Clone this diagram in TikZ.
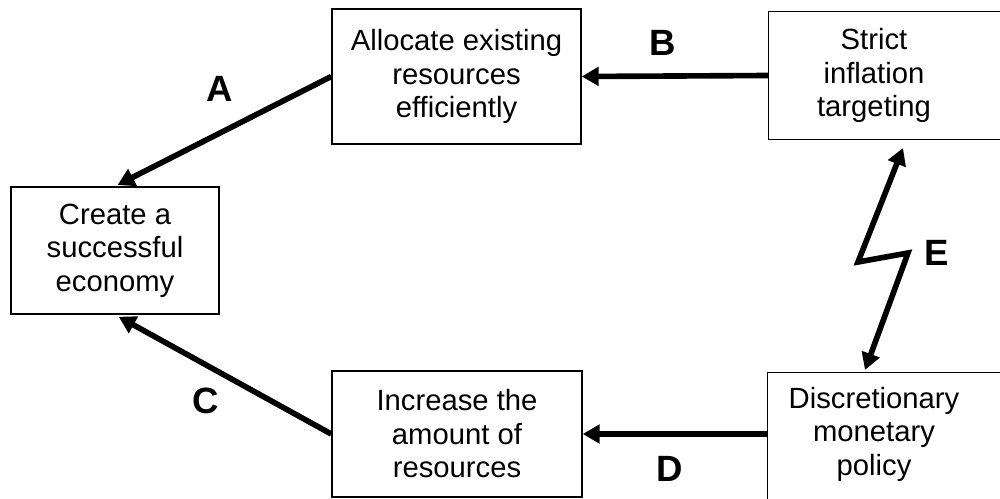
\documentclass[tikz,border=0pt]{standalone}
\usepackage{fontspec}
\setmainfont{Liberation Sans}
\usetikzlibrary{positioning, arrows.meta}

\begin{document}
\begin{tikzpicture}[x=0.025cm, y=-0.025cm, line width=1pt,
	box/.style={draw, align=center, inner sep=0pt, font=\fontsize{20.8}{23.8}\selectfont},
	txt/.style={align=center, inner sep=0pt, font=\fontsize{20.8}{23.8}\selectfont},
	arr/.style={-{Triangle[length=12pt,width=13pt]}, line width=4pt},
	dblarr/.style={{Triangle[length=12pt,width=13pt]}-{Triangle[length=12pt,width=13pt]}, line width=4pt, line join=miter},
	lbl/.style={inner sep=0pt, font=\fontsize{26}{30}\bfseries\selectfont}]
	\useasboundingbox (0,0) rectangle (1000,499);
	\clip (0,0) rectangle (1000,499);

	\node[box, minimum width=5.2cm, minimum height=3.175cm] (create) at (115,250.5) {Create a\\successful\\economy};
	\node[box, minimum width=6.225cm, minimum height=3.375cm] (alloc) at (456.5,76.5) {Allocate existing\\resources\\efficiently};
	\node[box, minimum width=6.25cm, minimum height=3.15cm] (incr) at (457,434) {Increase the\\amount of\\resources};
	\node[txt, minimum width=5.25cm, minimum height=3.175cm] (strict) at (874,75.5) {Strict\\inflation\\targeting};
	\node[txt, minimum width=5.3cm, minimum height=3.05cm] (disc) at (874,434) {Discretionary\\monetary\\policy};

	\draw ([xshift=8cm]strict.north west) -- (strict.north west) -- (strict.south west) -- ([xshift=8cm]strict.south west);
	\draw ([xshift=8cm]disc.north west) -- (disc.north west) -- ([yshift=-4cm]disc.north west);

	\coordinate (e1) at (903,148);
	\coordinate (e2) at (865,370);

	\draw[arr, shorten >=2pt] (alloc.west) -- (create.north);
	\draw[arr] (strict.west) -- (alloc.east);
	\draw[arr, shorten >=3pt] (incr.west) -- (create.south);
	\draw[arr] (disc.west) -- (disc.west -| incr.east);
	\draw[dblarr] (e1) -- (858,262) -- (908,253) -- (e2);

	\node[lbl] (la) at (220,89) {A};
	\node[lbl] (lb) at (663,43) {B};
	\node[lbl] (lc) at (206,401) {C};
	\node[lbl] (ld) at (670,469) {D};
	\node[lbl] (le) at (937,253) {E};
\end{tikzpicture}
\end{document}
